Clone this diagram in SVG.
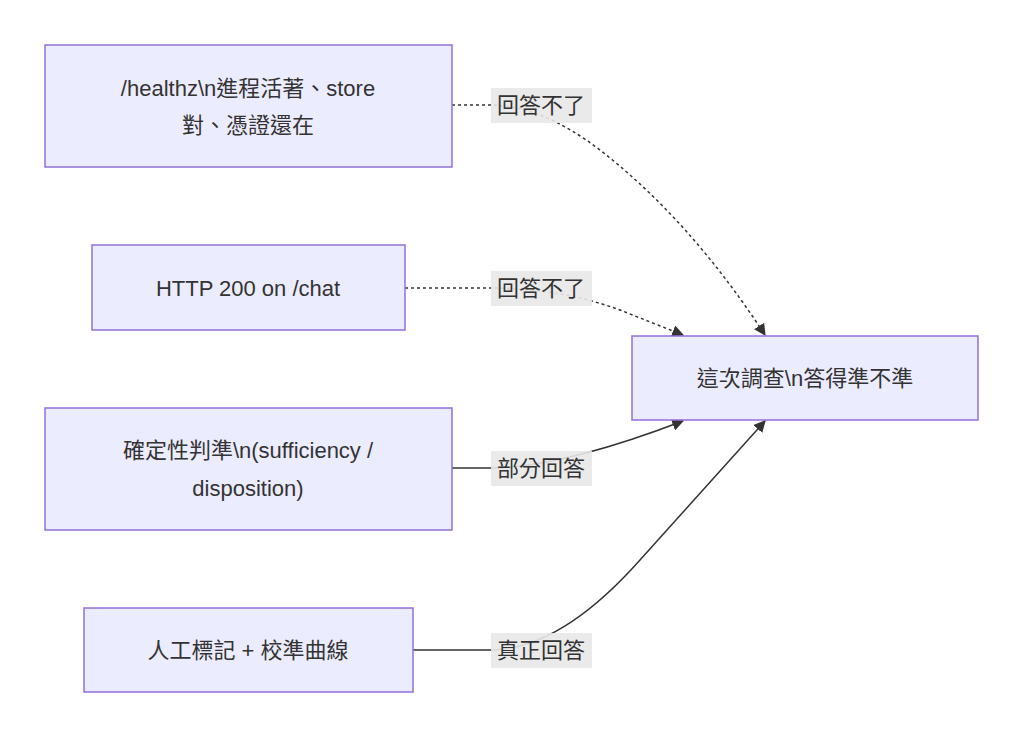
<svg xmlns="http://www.w3.org/2000/svg" width="1024" height="751" viewBox="0 0 1024 751">
<style>
.n{fill:#ECECFF;stroke:#9370DB;stroke-width:1.5}
.t{font-family:"Liberation Sans","Noto Sans CJK TC",sans-serif;font-size:22px;fill:#333;text-anchor:middle}
.e{fill:none;stroke:#333;stroke-width:1.5}
.d{stroke-dasharray:3,3}
.lb{fill:#e8e8e8;opacity:0.9}
</style>
<defs><marker id="a" viewBox="0 0 10 10" refX="9" refY="5" markerWidth="8" markerHeight="8" orient="auto"><path d="M0,0L10,5L0,10z" fill="#333"/></marker></defs>
<rect width="1024" height="751" fill="#fff"/>
<g id="edges">
<path class="e d" d="M452,105 L490,105 Q541,105 600,150 Q690,220 765,335" marker-end="url(#a)"/>
<path class="e d" d="M405,288 L490,288 Q560,288 620,310 L683,335" marker-end="url(#a)"/>
<path class="e" d="M452,468 L490,468 Q560,468 683,421" marker-end="url(#a)"/>
<path class="e" d="M413,650 L490,650 Q560,650 640,560 L765,421" marker-end="url(#a)"/>
<rect class="lb" x="491" y="88" width="101" height="35"/><text class="t" x="541" y="113">回答不了</text>
<rect class="lb" x="491" y="271" width="101" height="35"/><text class="t" x="541" y="296">回答不了</text>
<rect class="lb" x="491" y="451" width="101" height="35"/><text class="t" x="541" y="476">部分回答</text>
<rect class="lb" x="491" y="633" width="101" height="35"/><text class="t" x="541" y="658">真正回答</text>
</g>
<g id="n1"><rect class="n" x="45" y="45" width="407" height="122"/><text class="t" x="248" y="96">/healthz\n進程活著、store</text><text class="t" x="248" y="133">對、憑證還在</text></g>
<g id="n2"><rect class="n" x="92" y="245" width="313" height="85"/><text class="t" x="248" y="296">HTTP 200 on /chat</text></g>
<g id="n3"><rect class="n" x="45" y="408" width="407" height="122"/><text class="t" x="248" y="458">確定性判準\n(sufficiency /</text><text class="t" x="248" y="496">disposition)</text></g>
<g id="n4"><rect class="n" x="84" y="608" width="329" height="84"/><text class="t" x="248" y="658">人工標記 + 校準曲線</text></g>
<g id="target"><rect class="n" x="632" y="336" width="346" height="84"/><text class="t" x="805" y="386">這次調查\n答得準不準</text></g>
</svg>
